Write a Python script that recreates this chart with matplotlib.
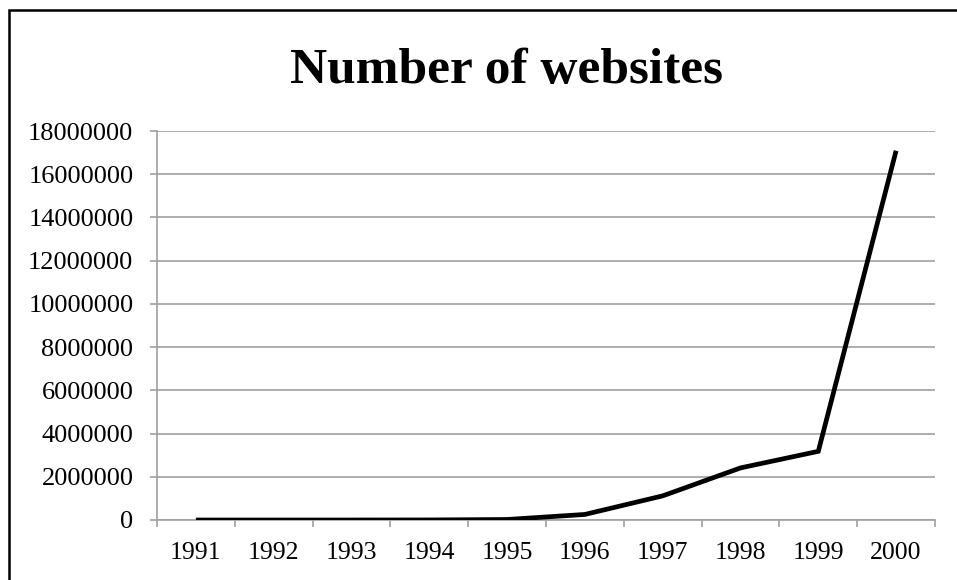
import matplotlib.pyplot as plt
from matplotlib.patches import Rectangle

years = ["1991", "1992", "1993", "1994", "1995", "1996", "1997", "1998", "1999", "2000"]
websites = [1, 10, 130, 2738, 23500, 257601, 1117255, 2410067, 3177453, 17087182]
y_ticks = list(range(0, 18000001, 2000000))

plt.rcParams["font.family"] = ["Liberation Serif", "DejaVu Serif"]
grid_grey = "#a0a0a0"

fig = plt.figure(figsize=(9.57, 5.8), dpi=100)
ax = fig.add_axes([157 / 957, 1 - 520 / 580, (935 - 157) / 957, (520 - 131) / 580])

# chart border, runs off the right and bottom edges
fig.patches.append(Rectangle((9 / 957, -0.1), 1.2, 1.1 - 10 / 580, transform=fig.transFigure,
                             fill=False, edgecolor="black", linewidth=1.8))

x = list(range(len(years)))
ax.plot(x, websites, color="black", linewidth=3.4, solid_joinstyle="miter",
        solid_capstyle="butt", zorder=3)

ax.set_xlim(-0.5, len(years) - 0.5)
ax.set_ylim(0, 18000000)
ax.set_yticks(y_ticks)
ax.set_yticklabels([str(v) for v in y_ticks])
ax.yaxis.grid(True, color=grid_grey, linewidth=1.2)
ax.set_axisbelow(True)

# category labels centred, tick marks between categories
ax.set_xticks(x)
ax.set_xticklabels(years)
ax.set_xticks([i - 0.5 for i in range(len(years) + 1)], minor=True)
ax.tick_params(axis="x", which="major", length=0, pad=16, labelsize=18.5)
ax.tick_params(axis="x", which="minor", length=5, color=grid_grey, width=1.2)
ax.tick_params(axis="y", length=5, color=grid_grey, width=1.2, pad=12, labelsize=19)

for side in ["top", "right"]:
    ax.spines[side].set_visible(False)
for side in ["left", "bottom"]:
    ax.spines[side].set_color(grid_grey)
    ax.spines[side].set_linewidth(1.2)

fig.text(506 / 957, 1 - 83 / 580, "Number of websites", ha="center", va="baseline",
         fontsize=37, fontweight="bold")

fig.savefig("out.png", dpi=100, facecolor="white")
